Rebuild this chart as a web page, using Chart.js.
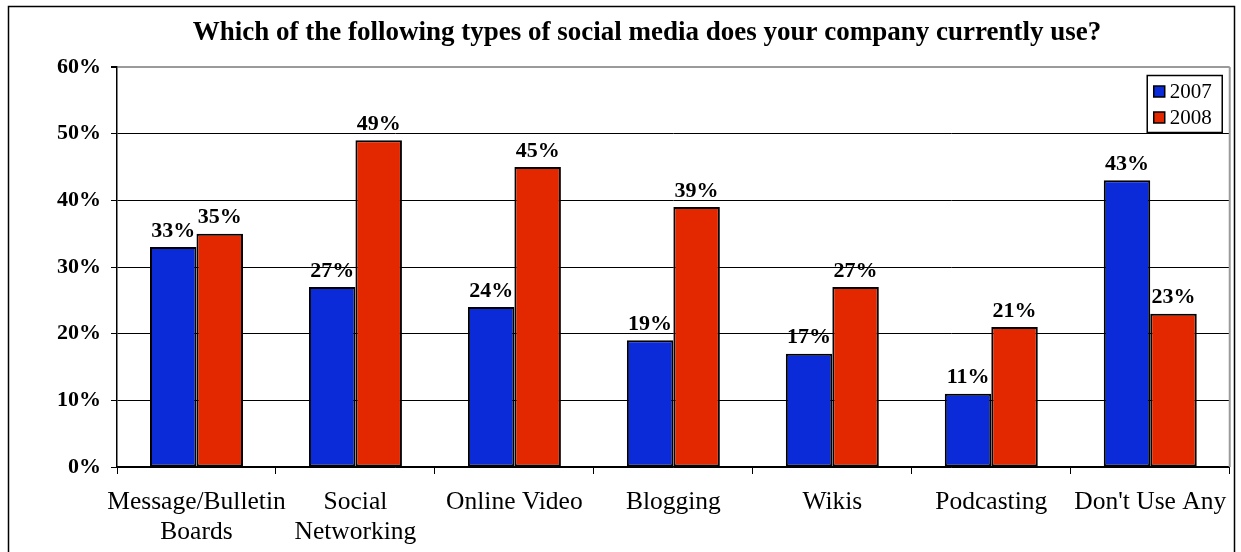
<!DOCTYPE html>
<html>
<head>
<meta charset="utf-8">
<script src="https://cdn.jsdelivr.net/npm/chart.js@4/dist/chart.umd.min.js"></script>
<style>
  html, body { margin: 0; padding: 0; background: #fff; }
  #wrap { width: 1241px; height: 552px; }
</style>
</head>
<body>
<div id="wrap"><canvas id="c" width="1241" height="552"></canvas></div>
<script>
const chartTitle = "Which of the following types of social media does your company currently use?";
const categories = [
  ["Message/Bulletin", "Boards"],
  ["Social", "Networking"],
  "Online Video",
  "Blogging",
  "Wikis",
  "Podcasting",
  "Don't Use Any"
];
const seriesNames = ["2007", "2008"];
const values2007 = [33, 27, 24, 19, 17, 11, 43];
const values2008 = [35, 49, 45, 39, 27, 21, 23];
const yTicks = [0, 10, 20, 30, 40, 50, 60];

const SERIF = "'Liberation Serif', 'Times New Roman', serif";
const BLUE = "#0b2ad8";
const RED = "#e32800";

const bgPlugin = {
  id: 'bg',
  beforeDraw(chart) {
    const ctx = chart.ctx;
    ctx.save();
    ctx.fillStyle = '#fff';
    ctx.fillRect(0, 0, chart.width, chart.height);
    ctx.restore();
  }
};

const labelPlugin = {
  id: 'barLabels',
  afterDatasetsDraw(chart) {
    const ctx = chart.ctx;
    ctx.save();
    ctx.font = "bold 22px " + SERIF;
    ctx.fillStyle = '#000';
    ctx.textAlign = 'center';
    ctx.textBaseline = 'middle';
    chart.data.datasets.forEach((ds, di) => {
      const meta = chart.getDatasetMeta(di);
      meta.data.forEach((bar, i) => {
        ctx.fillText(ds.data[i] + '%', bar.x, bar.y - 16);
      });
    });
    ctx.restore();
  }
};

const framePlugin = {
  id: 'frame',
  afterDraw(chart) {
    const ctx = chart.ctx;
    const a = chart.chartArea;
    ctx.save();
    // title
    ctx.fillStyle = '#000';
    ctx.font = "bold 27px " + SERIF;
    ctx.textAlign = 'center';
    ctx.textBaseline = 'middle';
    ctx.fillText(chartTitle, 647, 33);

    // plot area right border (gray)
    ctx.strokeStyle = '#9a9a9a';
    ctx.lineWidth = 2;
    ctx.beginPath();
    ctx.moveTo(a.right, a.top);
    ctx.lineTo(a.right, a.bottom);
    ctx.stroke();

    // legend
    const lx = a.right - 83, ly = a.top + 8, lw = 75, lh = 57;
    ctx.fillStyle = '#fff';
    ctx.fillRect(lx, ly, lw, lh);
    ctx.strokeStyle = '#000';
    ctx.lineWidth = 1.5;
    ctx.strokeRect(lx + 0.5, ly + 0.5, lw, lh);
    ctx.font = "21px " + SERIF;
    ctx.textAlign = 'left';
    ctx.textBaseline = 'middle';
    chart.data.datasets.forEach((ds, i) => {
      const cy = ly + 16 + i * 26;
      ctx.fillStyle = ds.backgroundColor;
      ctx.fillRect(lx + 7, cy - 5, 11, 11);
      ctx.strokeStyle = '#000';
      ctx.lineWidth = 1.5;
      ctx.strokeRect(lx + 7, cy - 5, 11, 11);
      ctx.fillStyle = '#000';
      ctx.fillText(ds.label, lx + 23, cy + 1);
    });

    // outer frame
    ctx.fillStyle = '#fff';
    ctx.fillRect(1236, 0, chart.width - 1236, chart.height);
    ctx.strokeStyle = '#000';
    ctx.lineWidth = 1.5;
    ctx.beginPath();
    ctx.moveTo(8.5, chart.height);
    ctx.lineTo(8.5, 6.5);
    ctx.lineTo(1234.5, 6.5);
    ctx.lineTo(1234.5, chart.height);
    ctx.stroke();
    ctx.restore();
  }
};

new Chart(document.getElementById('c'), {
  type: 'bar',
  data: {
    labels: categories,
    datasets: [
      { label: seriesNames[0], data: values2007, backgroundColor: BLUE },
      { label: seriesNames[1], data: values2008, backgroundColor: RED }
    ]
  },
  options: {
    responsive: false,
    devicePixelRatio: 1,
    animation: false,
    layout: { padding: { top: 67, left: 0, right: 11, bottom: 0 } },
    datasets: {
      bar: {
        borderColor: '#000',
        borderWidth: 2,
        borderSkipped: false,
        categoryPercentage: 0.585,
        barPercentage: 1.0
      }
    },
    plugins: {
      legend: { display: false },
      tooltip: { enabled: false },
      title: { display: false }
    },
    scales: {
      x: {
        grid: {
          display: true,
          drawOnChartArea: false,
          drawTicks: true,
          tickLength: 7,
          tickColor: '#000',
          offset: true
        },
        border: { display: true, color: '#000', width: 1.5 },
        ticks: {
          color: '#000',
          font: { family: SERIF, size: 25.5, lineHeight: 1.15 },
          padding: 14,
          maxRotation: 0,
          autoSkip: false
        },
        afterFit(scale) { scale.height = 85; }
      },
      y: {
        min: 0,
        max: 60,
        afterBuildTicks(scale) { scale.ticks = yTicks.map(v => ({ value: v })); },
        grid: {
          color: (c) => (c.tick && c.tick.value === 60) ? '#9a9a9a' : '#000',
          lineWidth: (c) => (c.tick && c.tick.value === 60) ? 2 : 1,
          tickColor: '#000',
          tickLength: 6
        },
        border: { display: true, color: '#000', width: 1.5 },
        ticks: {
          color: '#000',
          font: { family: SERIF, size: 22, weight: 'bold' },
          padding: 10,
          callback: (v) => v + '%'
        },
        afterFit(scale) { scale.width = 117; }
      }
    }
  },
  plugins: [bgPlugin, labelPlugin, framePlugin]
});
</script>
</body>
</html>
